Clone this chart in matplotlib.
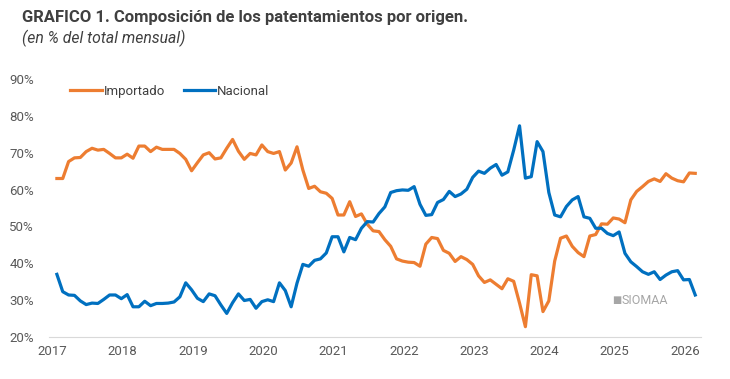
import matplotlib.pyplot as plt
import numpy as np

plt.rcParams['font.family'] = ['Roboto', 'DejaVu Sans']

# series mensual desde ene-2017 (% del total mensual)
importado = [63.0, 63.0, 67.6, 68.6, 68.7, 70.3, 71.2, 70.7, 70.9, 69.8, 68.6, 68.6,
             69.6, 68.5, 71.8, 71.8, 70.3, 71.5, 70.9, 70.9, 70.9, 69.8, 68.2, 65.1,
             67.3, 69.4, 70.0, 68.3, 68.6, 71.2, 73.6, 70.4, 68.2, 69.8, 69.4, 72.1,
             70.3, 69.8, 70.3, 65.3, 67.2, 71.6, 65.3, 60.3, 60.9, 59.4, 59.0, 57.6,
             53.1, 53.1, 56.7, 52.7, 53.4, 50.6, 48.8, 48.6, 46.4, 44.6, 41.2, 40.6,
             40.3, 40.2, 39.2, 45.2, 47.0, 46.7, 43.5, 42.7, 40.5, 41.8, 41.0, 39.7,
             36.6, 34.8, 35.5, 34.3, 33.1, 35.8, 35.1, 29.2, 22.8, 36.9, 36.6, 26.9,
             29.8, 40.6, 46.8, 47.4, 44.6, 42.9, 41.8, 47.4, 47.8, 50.7, 50.6, 52.3,
             52.0, 51.0, 57.2, 59.5, 60.8, 62.2, 62.9, 62.2, 64.3, 63.1, 62.4, 62.1,
             64.5, 64.4]
nacional = [37.0, 32.3, 31.4, 31.3, 29.8, 28.8, 29.2, 29.1, 30.2, 31.4, 31.4, 30.4,
            31.5, 28.2, 28.2, 29.7, 28.5, 29.1, 29.1, 29.2, 29.5, 30.9, 34.7, 32.8,
            30.5, 29.6, 31.7, 31.2, 28.7, 26.4, 29.3, 31.7, 29.9, 30.2, 27.8, 29.6,
            30.1, 29.6, 34.7, 32.6, 28.2, 34.6, 39.7, 39.2, 40.8, 41.2, 42.8, 47.2,
            47.2, 43.1, 47.0, 46.4, 49.5, 51.3, 51.2, 53.5, 55.3, 59.2, 59.7, 59.9,
            59.8, 60.8, 56.0, 53.0, 53.2, 56.5, 57.3, 59.5, 58.1, 58.8, 60.1, 63.3,
            65.0, 64.4, 65.8, 66.8, 63.9, 64.8, 70.7, 77.3, 63.1, 63.5, 73.0, 70.3,
            59.2, 53.1, 52.6, 55.4, 57.2, 58.1, 52.6, 52.2, 49.5, 49.5, 48.1, 47.5,
            48.5, 42.7, 40.4, 39.1, 37.7, 37.0, 37.7, 35.6, 36.8, 37.7, 38.0, 35.5,
            35.6, 31.4]
years = list(range(2017, 2027))
yticks = [20, 30, 40, 50, 60, 70, 80, 90]

n = len(nacional)
x = 2017 + (np.arange(n) + 0.75) / 12

fig = plt.figure(figsize=(7.3, 3.79), dpi=100)
ax = fig.add_axes((0.0675, 0.1108, 0.8925, 0.6808))

ax.plot(x, importado, color='#ED7D31', lw=2.3, label='Importado')
ax.plot(x, nacional, color='#0070C0', lw=2.3, label='Nacional')

ax.set_ylim(20, 90)
ax.set_xlim(2017 - 0.55 / 12, 2017 + 110.7 / 12)
ax.set_yticks(yticks)
ax.set_yticklabels([f'{v}%' for v in yticks])
ax.set_xticks(years)
ax.set_xticklabels([str(y) for y in years])
ax.tick_params(length=0, labelsize=9.5, colors='#595959')
ax.tick_params(axis='y', pad=11)
ax.tick_params(axis='x', pad=6)
for s in ['top', 'right', 'left']:
    ax.spines[s].set_visible(False)
ax.spines['bottom'].set_color('#D9D9D9')

leg = ax.legend(loc='center left', bbox_to_anchor=(0.032, 0.953), ncol=2, frameon=False,
                fontsize=9.5, handlelength=2.4, handletextpad=0.15, columnspacing=1.4,
                borderpad=0, borderaxespad=0, labelcolor='#404040')

fig.text(0.03, 0.953, 'GRAFICO 1. Composición de los patentamientos por origen.',
         fontsize=12, fontweight='bold', color='#404040', va='center')
fig.text(0.03, 0.900, '(en % del total mensual)', fontsize=11.3, style='italic',
         color='#404040', va='center')

ax.text(0.878, 0.143, '■', transform=ax.transAxes, fontsize=7, color='#A6A6A6',
        va='center', ha='right', family='DejaVu Sans')
ax.text(0.879, 0.143, 'SIOMAA', transform=ax.transAxes, fontsize=9, color='#A6A6A6',
        va='center', ha='left')

fig.savefig('out.png', dpi=100)
